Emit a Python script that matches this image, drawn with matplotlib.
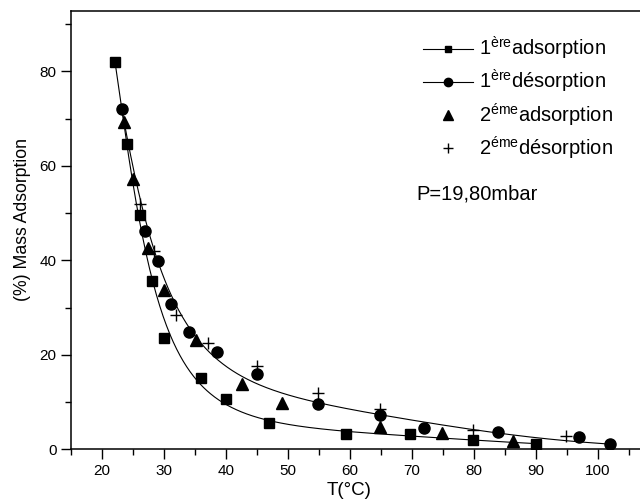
import numpy as np
import matplotlib
matplotlib.use("Agg")
import matplotlib.pyplot as plt
from matplotlib.lines import Line2D

plt.rcParams['font.family'] = ['Liberation Sans', 'DejaVu Sans']
plt.rcParams['mathtext.fontset'] = 'custom'
plt.rcParams['mathtext.rm'] = 'Liberation Sans'
plt.rcParams['mathtext.it'] = 'Liberation Sans'

# 1st adsorption (squares)
t_ads1 = [22.1, 24.1, 26.1, 28.1, 30.0, 36.0, 40.0, 47.0, 59.3, 69.7, 79.9, 90.0]
m_ads1 = [82.0, 64.6, 49.6, 35.6, 23.6, 15.2, 10.7, 5.6, 3.3, 3.2, 2.0, 1.2]

# 1st desorption (circles)
t_des1 = [23.2, 27.0, 29.1, 31.1, 34.0, 38.5, 45.0, 54.9, 64.8, 71.9, 83.8, 96.9, 101.9]
m_des1 = [72.0, 46.2, 39.8, 30.7, 24.9, 20.6, 16.0, 9.5, 7.2, 4.6, 3.7, 2.6, 1.1]

# 2nd adsorption (triangles)
t_ads2 = [23.5, 25.0, 27.4, 30.0, 35.2, 42.6, 49.1, 64.8, 74.9, 86.3]
m_ads2 = [69.2, 57.2, 42.7, 33.8, 23.2, 13.9, 9.8, 4.7, 3.5, 1.8]

# 2nd desorption (plus)
t_des2 = [26.1, 28.4, 32.0, 37.1, 45.0, 54.9, 64.8, 79.9, 94.9]
m_des2 = [52.0, 42.0, 28.5, 22.6, 17.6, 12.0, 8.6, 4.0, 2.8]

x_ticks = [20, 30, 40, 50, 60, 70, 80, 90, 100]
y_ticks = [0, 20, 40, 60, 80]


def fitted_curve(t, m, deg=4, n=500):
    """Weighted least-squares trend of log(mass) vs log(T), pinned near the ends."""
    lt = np.log(np.asarray(t, float))
    lm = np.log(np.asarray(m, float))
    w = np.ones_like(lt)
    w[0] = w[-1] = 8.0
    coef = np.polyfit(lt, lm, deg, w=w)
    ts = np.linspace(t[0], t[-1], n)
    return ts, np.exp(np.polyval(coef, np.log(ts)))


fig = plt.figure(figsize=(6.4, 4.99), dpi=100)
ax = fig.add_axes([71 / 640, 49.7 / 499, 589 / 640, 438.3 / 499])

ax.plot(*fitted_curve(t_ads1, m_ads1), color='black', lw=0.8)
ax.plot(*fitted_curve(t_des1, m_des1), color='black', lw=0.8)

ax.plot(t_ads1, m_ads1, ls='none', marker='s', ms=7, color='black')
ax.plot(t_des1, m_des1, ls='none', marker='o', ms=8, color='black')
ax.plot(t_ads2, m_ads2, ls='none', marker='^', ms=8, color='black')
ax.plot(t_des2, m_des2, ls='none', marker='+', ms=9, mew=1.0, color='black')

ax.set_xlim(15, 110)
ax.set_ylim(0, 92.8)
ax.set_xticks(x_ticks)
ax.set_yticks(y_ticks)
ax.set_xticks(np.arange(15, 110, 10), minor=True)
ax.set_yticks(np.arange(10, 92, 20), minor=True)
ax.tick_params(which='major', direction='out', length=7, width=1, labelsize=11)
ax.tick_params(which='minor', direction='out', length=4, width=1)
ax.tick_params(top=False, right=False)
for sp in ax.spines.values():
    sp.set_linewidth(1.1)

ax.set_xlabel('T(°C)', fontsize=13.5)
ax.xaxis.set_label_coords((349 - 71) / 589, -0.075)
ax.set_ylabel('(%) Mass Adsorption', fontsize=12.7)
ax.yaxis.set_label_coords(-0.068, 0.525)

handles = [
    Line2D([], [], color='black', lw=0.8, marker='s', ms=5),
    Line2D([], [], color='black', lw=0.8, marker='o', ms=6),
    Line2D([], [], ls='none', color='black', marker='^', ms=6.5),
    Line2D([], [], ls='none', color='black', marker='+', ms=7, mew=1.0),
]
labels = [
    r'1$^{\mathrm{ère}}$adsorption',
    r'1$^{\mathrm{ère}}$désorption',
    r'2$^{\mathrm{éme}}$adsorption',
    r'2$^{\mathrm{éme}}$désorption',
]
ax.legend(handles, labels, loc='upper left', bbox_to_anchor=(423 / 640, 1 - 35 / 499),
          bbox_transform=fig.transFigure, frameon=False, fontsize=14.5,
          handlelength=2.5, handletextpad=0.3, labelspacing=0.3, borderpad=0,
          borderaxespad=0)

ax.text(70.7, 54.0, 'P=19,80mbar', fontsize=14.5, va='center', ha='left')

fig.savefig('out.png', dpi=100)
